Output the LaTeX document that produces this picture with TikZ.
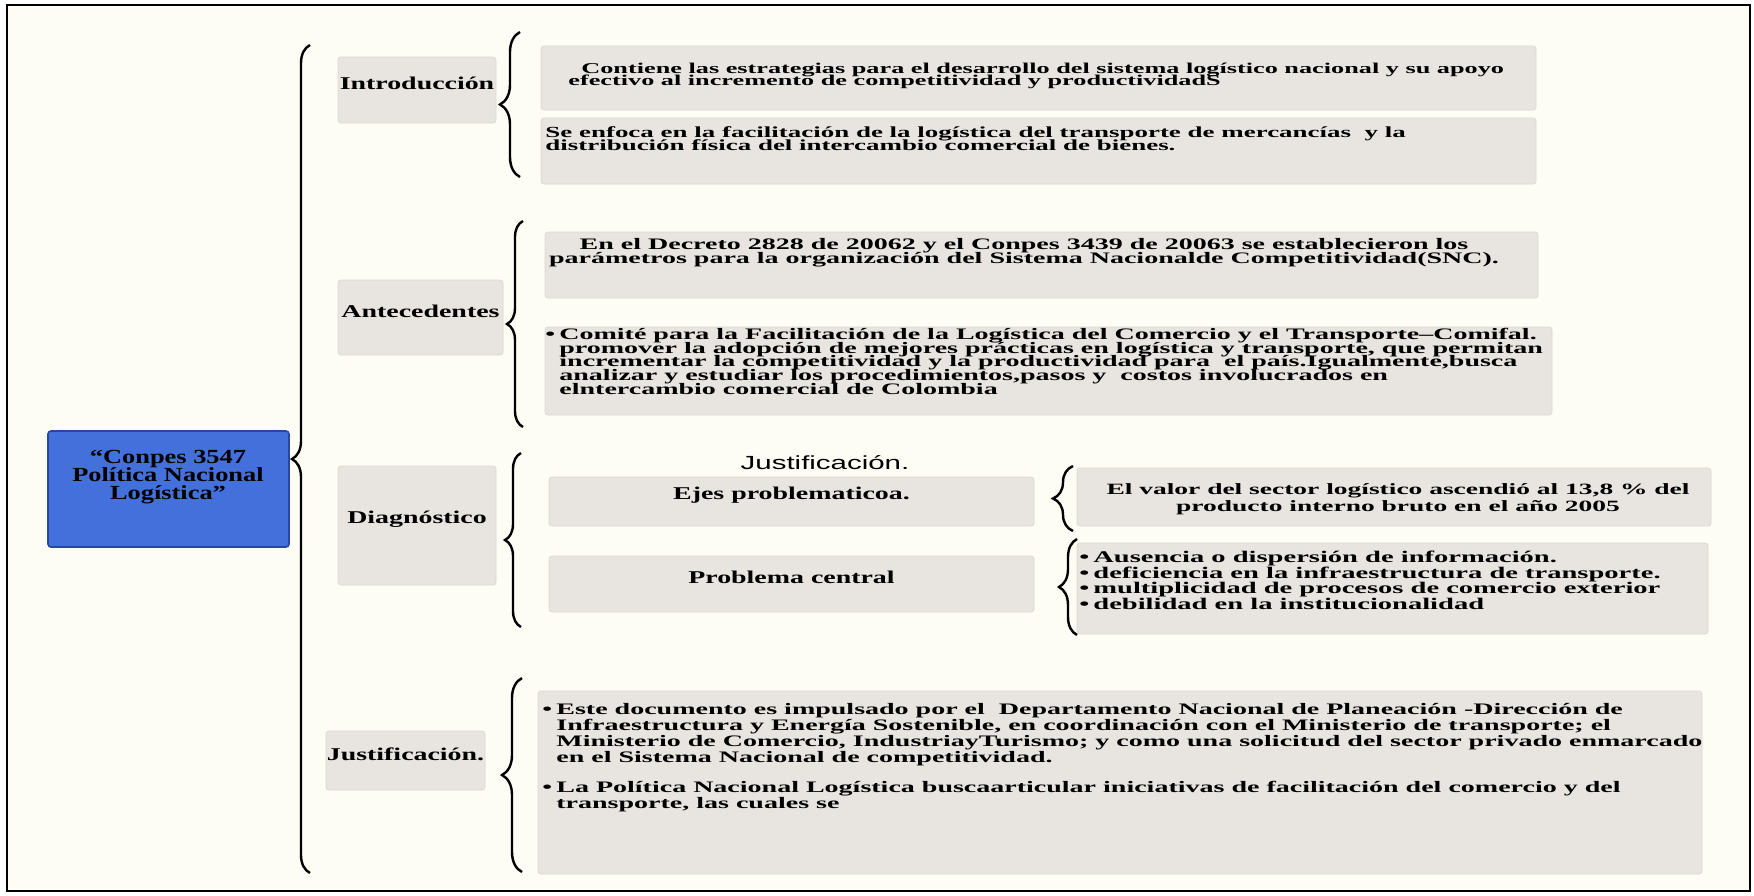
\documentclass[tikz,border=0pt]{standalone}
\usepackage{fontspec}
\usepackage{xcolor}
\usetikzlibrary{decorations.pathreplacing,fit}
\setmainfont{Liberation Serif}
\newfontfamily\boxserif[FakeStretch=1.55]{Liberation Serif}
\newfontfamily\bodyserif[FakeStretch=1.75]{Liberation Serif}
\newfontfamily\titleserif[FakeStretch=1.32]{Liberation Serif}
\newfontfamily\boxsans[FakeStretch=1.55]{Liberation Sans}
\definecolor{papercream}{RGB}{253, 252, 245}
\definecolor{boxgrey}{RGB}{232, 228, 223}
\definecolor{boxedge}{RGB}{220, 216, 210}
\definecolor{titleblue}{RGB}{67, 112, 218}
\definecolor{titleedge}{RGB}{38, 72, 160}
\newcommand{\bul}{\makebox[7pt][l]{\textbullet}}
\newcommand{\bulgap}{\hspace*{7pt}}
\newcommand{\tightlines}{\lineskiplimit=-10pt\relax}
\newcommand{\boxfont}[2]{\bodyserif\bfseries\fontsize{#1}{#2}\selectfont\tightlines}

\begin{document}
\begin{tikzpicture}[x=0.5pt, y=-0.5pt,
    greybox/.style={fill=boxgrey, draw=boxedge, line width=0.4pt, rounded corners=1.5pt, inner sep=0pt},
    labeltext/.style={font=\boxserif\bfseries\fontsize{9}{9}\selectfont},
    bodytext/.style={inner sep=0pt, align=left, anchor=north west},
    curly/.style={decorate, line width=1.2pt, decoration={brace, amplitude=#1}},
]
    \useasboundingbox (0,0) rectangle (1754,895);
    \fill[white] (0,0) rectangle (1754,895);

    % page frame
    \node[fit={(7,5) (1750,891)}, inner sep=0pt, fill=papercream, draw=black, line width=1.3pt] (frame) {};

    % main title
    \node[fit={(48,431) (289,547)}, inner sep=0pt, fill=titleblue, draw=titleedge, line width=0.8pt, rounded corners=1.5pt] (conpes) {};
    \node[align=center, font={\titleserif\bfseries\fontsize{10}{9}\selectfont\tightlines}] (conpestxt) at (168,477) {“Conpes 3547\\Política Nacional\\Logística”};
    \draw[curly=9pt] (310,873) -- (310,45);

    % second level
    \node[greybox, labeltext, fit={(338,57) (496,123)}] (intro) {Introducción};
    \node[greybox, labeltext, fit={(338,280) (503,355)}] (antec) {Antecedentes};
    \node[greybox, labeltext, fit={(338,466) (496,585)}] (diagn) {Diagnóstico};
    \node[greybox, labeltext, fit={(326,731) (485,790)}] (justif) {Justificación.};

    % introduccion
    \draw[curly=10pt] (520,177) -- (520,32);
    \node[greybox, fit={(541,46) (1536,110)}] (intro1) {};
    \node[bodytext, font={\boxfont{7.5}{6pt}}] (intro1txt) at (568,63) {\hspace*{6.5pt}Contiene las estrategias para el desarrollo del sistema logístico nacional y su apoyo\\efectivo al incremento de competitividad y productividadS};
    \node[greybox, fit={(541,118) (1536,184)}] (intro2) {};
    \node[bodytext, font={\boxfont{7.7}{6.6pt}}] (intro2txt) at (545,126) {Se enfoca en la facilitación de la logística del transporte de mercancías~ y la\\distribución física del intercambio comercial de bienes.};

    % antecedentes
    \draw[curly=8pt] (523,427) -- (523,221);
    \node[greybox, fit={(545,232) (1538,298)}] (antec1) {};
    \node[bodytext, font={\boxfont{8}{7pt}}, align=center, anchor=north] (antec1txt) at (1024,238) {En el Decreto 2828 de 20062 y el Conpes 3439 de 20063 se establecieron los\\parámetros para la organización del Sistema Nacionalde Competitividad(SNC).};
    \node[greybox, fit={(545,327) (1552,415)}] (antec2) {};
    \node[bodytext, font={\boxfont{8}{6.8pt}}] (antec2txt) at (545,328) {\bul Comité para la Facilitación de la Logística del Comercio y el Transporte–Comifal.\\\bulgap promover la adopción de mejores prácticas en logística y transporte, que permitan\\\bulgap incrementar la competitividad y la productividad para~ el país.Igualmente,busca\\\bulgap analizar y estudiar los procedimientos,pasos y~ costos involucrados en\\\bulgap elntercambio comercial de Colombia};

    % diagnostico
    \draw[curly=8pt] (521,627) -- (521,453);
    \node[font=\boxsans\fontsize{9.5}{9.5}\selectfont] (justlabel) at (825,463) {Justificación.};
    \node[greybox, labeltext, fit={(549,477) (1034,526)}] (ejes) {Ejes problematicoa.};
    \node[greybox, labeltext, fit={(549,556) (1034,612)}] (problema) {Problema central};
    \draw[curly=10pt] (1073,531) -- (1073,466);
    \node[greybox, fit={(1077,468) (1711,526)}] (valor) {};
    \node[bodytext, font={\boxfont{7.85}{8.5pt}}, align=center, anchor=center] (valortxt) at (1398,499) {El valor del sector logístico ascendió al 13,8 \% del\\producto interno bruto en el año 2005};
    \draw[curly=9pt] (1077,635) -- (1077,539);
    \node[greybox, fit={(1077,543) (1708,634)}] (causas) {};
    \node[bodytext, font={\boxfont{8.15}{7.7pt}}] (causastxt) at (1079,551) {\bul Ausencia o dispersión de información.\\\bul deficiencia en la infraestructura de transporte.\\\bul multiplicidad de procesos de comercio exterior\\\bul debilidad en la institucionalidad};

    % justificacion
    \draw[curly=10pt] (522,872) -- (522,678);
    \node[greybox, fit={(538,691) (1702,874)}] (justif1) {};
    \node[bodytext, font={\boxfont{8}{8pt}}] (justif1txt) at (542,703) {\bul Este documento es impulsado por el~ Departamento Nacional de Planeación -Dirección de\\\bulgap Infraestructura y Energía Sostenible, en coordinación con el Ministerio de transporte; el\\\bulgap Ministerio de Comercio, IndustriayTurismo; y como una solicitud del sector privado enmarcado\\\bulgap en el Sistema Nacional de competitividad.\\[7pt]\bul La Política Nacional Logística buscaarticular iniciativas de facilitación del comercio y del\\\bulgap transporte, las cuales se};
\end{tikzpicture}
\end{document}
